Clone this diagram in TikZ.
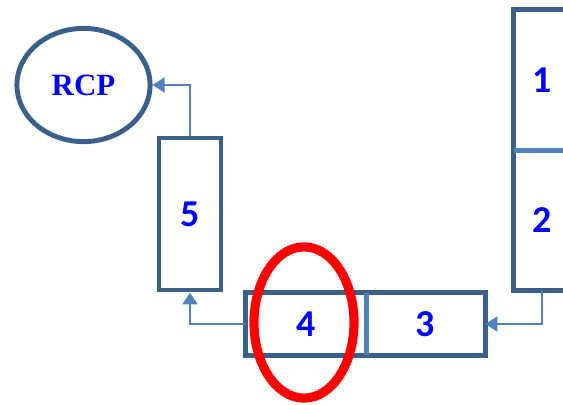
\documentclass[tikz,border=0pt]{standalone}
\usepackage{fontspec}
\setmainfont{Carlito}
\newfontfamily\rcpfont{Liberation Serif}
\usetikzlibrary{arrows.meta,shapes.geometric}
\definecolor{Frame}{HTML}{3A5F8B}
\definecolor{Link}{HTML}{4F81BD}
\definecolor{Label}{HTML}{0000FF}

\begin{document}
\begin{tikzpicture}[x=0.025cm, y=-0.025cm,
  every node/.style={font=\fontsize{27}{32}\selectfont\bfseries, text=Label, inner sep=0pt},
  box/.style={draw=Frame, line width=3.5pt},
  divider/.style={draw=Link, line width=3.2pt},
  link/.style={draw=Link, line width=2pt, -{Triangle[length=8.5pt,width=10.5pt]}}]
\useasboundingbox (0,0) rectangle (563,404);
\clip (0,0) rectangle (563,404);
\node[ellipse, box, minimum width=3.33cm, minimum height=2.83cm, font=\rcpfont\fontsize{22}{26}\selectfont\bfseries] (rcp) at (83.5,85) {RCP};
\node[box, minimum width=1.55cm, minimum height=3.8cm] (b5) at (190,214) {5};
\node[minimum width=3.0cm, minimum height=1.55cm] (b4) at (306,324) {4};
\node[minimum width=2.975cm, minimum height=1.55cm] (b3) at (425.5,324) {3};
\node[minimum width=1.4cm, minimum height=3.5cm] (b1) at (542,80) {1};
\node[minimum width=1.4cm, minimum height=3.5cm] (b2) at (542,220) {2};
\draw[box] (b4.north west) rectangle (b3.south east);
\draw[box] (b1.north west) rectangle (b2.south east);
\draw[divider] (b4.north east) -- (b4.south east);
\draw[divider] (b1.south west) -- (b1.south east);
\draw[link] (b2.south) |- (b3.east);
\draw[link] (b4.west) -| (b5.south);
\draw[link] (b5.north) |- (rcp.east);
\node[ellipse, draw=red, line width=6.5pt, minimum width=2.5cm, minimum height=3.78cm] (hl) at (304,322.5) {};
\end{tikzpicture}
\end{document}
